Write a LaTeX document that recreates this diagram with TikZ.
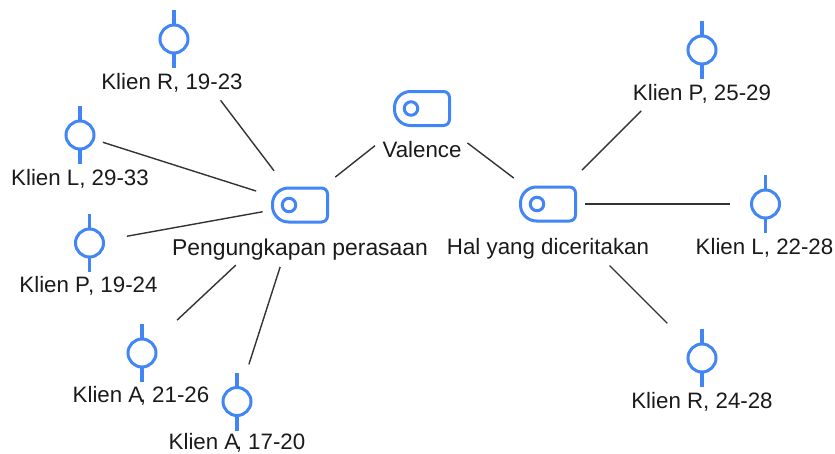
\documentclass[tikz,border=0pt]{standalone}
\usepackage{fontspec}
\setmainfont{Liberation Sans}
\usetikzlibrary{positioning}
\definecolor{iconcol}{HTML}{4285F4}
\definecolor{linkcol}{HTML}{333333}
\definecolor{textcol}{HTML}{1A1A1A}
\tikzset{
  iconline/.style={line width=3pt,iconcol},
  stem/.style={line width=3.5pt,iconcol},
  link/.style={line width=1.4pt,linkcol},
  tag/.style={text=textcol,font=\fontsize{22.3}{26}\selectfont,inner sep=0pt,text height=17pt,text depth=5pt},
  hub/.style={minimum width=55pt,minimum height=34pt,inner sep=0pt,outer sep=0pt},
  hubdot/.style={circle,draw=iconcol,line width=3pt,minimum size=13.5pt,inner sep=0pt},
  client/.style={circle,draw=iconcol,line width=3pt,minimum size=28pt,inner sep=0pt,outer sep=0pt,
    append after command={(\tikzlastnode.north) edge[stem] ++(0,-15) (\tikzlastnode.south) edge[stem] ++(0,15)}},
}
\newcommand{\hubicon}[2]{
  \node[hub] (#1) at (#2) {};
  \draw[iconline] (#1.north) [rounded corners=6pt] -- (#1.north east) -- (#1.south east) [rounded corners=16pt] -- (#1.south west) -- (#1.north west) [rounded corners=0pt] -- cycle;
  \node[hubdot] (#1dot) at ([xshift=-11pt]#1.center) {};
}
\begin{document}
\begin{tikzpicture}[x=1pt,y=-1pt]
    \useasboundingbox (0,0) rectangle (835,453);
    % middle
    \hubicon{val}{422,108.5}
    \node[tag,below=15pt of val] (vallabel) {Valence};
    \hubicon{feel}{300,205}
    \node[tag,font=\fontsize{22.9}{26}\selectfont,below=16pt of feel] (feellabel) {Pengungkapan perasaan};
    \hubicon{told}{548,204}
    \node[tag,below=16pt of told] (toldlabel) {Hal yang diceritakan};
    % left clients
    \node[client] (kR1) at (174,39) {};
    \node[tag,below=19pt of kR1,xshift=-2pt] (kR1label) {Klien R, 19-23};
    \node[client] (kL1) at (80,135) {};
    \node[tag,below=19pt of kL1] (kL1label) {Klien L, 29-33};
    \node[client] (kP1) at (89.5,243) {};
    \node[tag,below=18pt of kP1,xshift=-1pt] (kP1label) {Klien P\kern-2pt, 19-24};
    \node[client] (kA1) at (142,353) {};
    \node[tag,below=18pt of kA1,xshift=-1pt] (kA1label) {Klien A\kern-3.5pt, 21-26};
    \node[client] (kA2) at (237,401.5) {};
    \node[tag,text depth=2pt,below=17pt of kA2] (kA2label) {Klien A\kern-3.5pt, 17-20};
    % right clients
    \node[client] (kP2) at (702,50) {};
    \node[tag,below=19pt of kP2] (kP2label) {Klien P\kern-2pt, 25-29};
    \node[client] (kL2) at (765.5,204) {};
    \node[tag,below=19pt of kL2,xshift=-1pt] (kL2label) {Klien L, 22-28};
    \node[client] (kR2) at (702,358) {};
    \node[tag,below=19pt of kR2] (kR2label) {Klien R, 24-28};
    % connectors
    \draw[link,shorten <=60pt,shorten >=45pt] (val.center) -- (feel.center);
    \draw[link,shorten <=57pt,shorten >=43pt] (val.center) -- (told.center);
    \draw[link,shorten <=77pt,shorten >=43pt] (kR1.center) -- (feel.center);
    \draw[link,shorten <=24pt,shorten >=46pt] (kL1.center) -- (feel.center);
    \draw[link,shorten <=38pt,shorten >=38pt] (kP1.center) -- (feel.center);
    \draw[link,shorten <=48pt,shorten >=88pt] (kA1.center) -- (feel.center);
    \draw[link,shorten <=39pt,shorten >=65pt] (kA2.center) -- (feel.center);
    \draw[link,shorten <=86pt,shorten >=48pt] (kP2.center) -- (told.center);
    \draw[link,shorten <=36pt,shorten >=37pt] (kL2.center) -- (told.center);
    \draw[link,shorten <=49pt,shorten >=87pt] (kR2.center) -- (told.center);
  \end{tikzpicture}
\end{document}
